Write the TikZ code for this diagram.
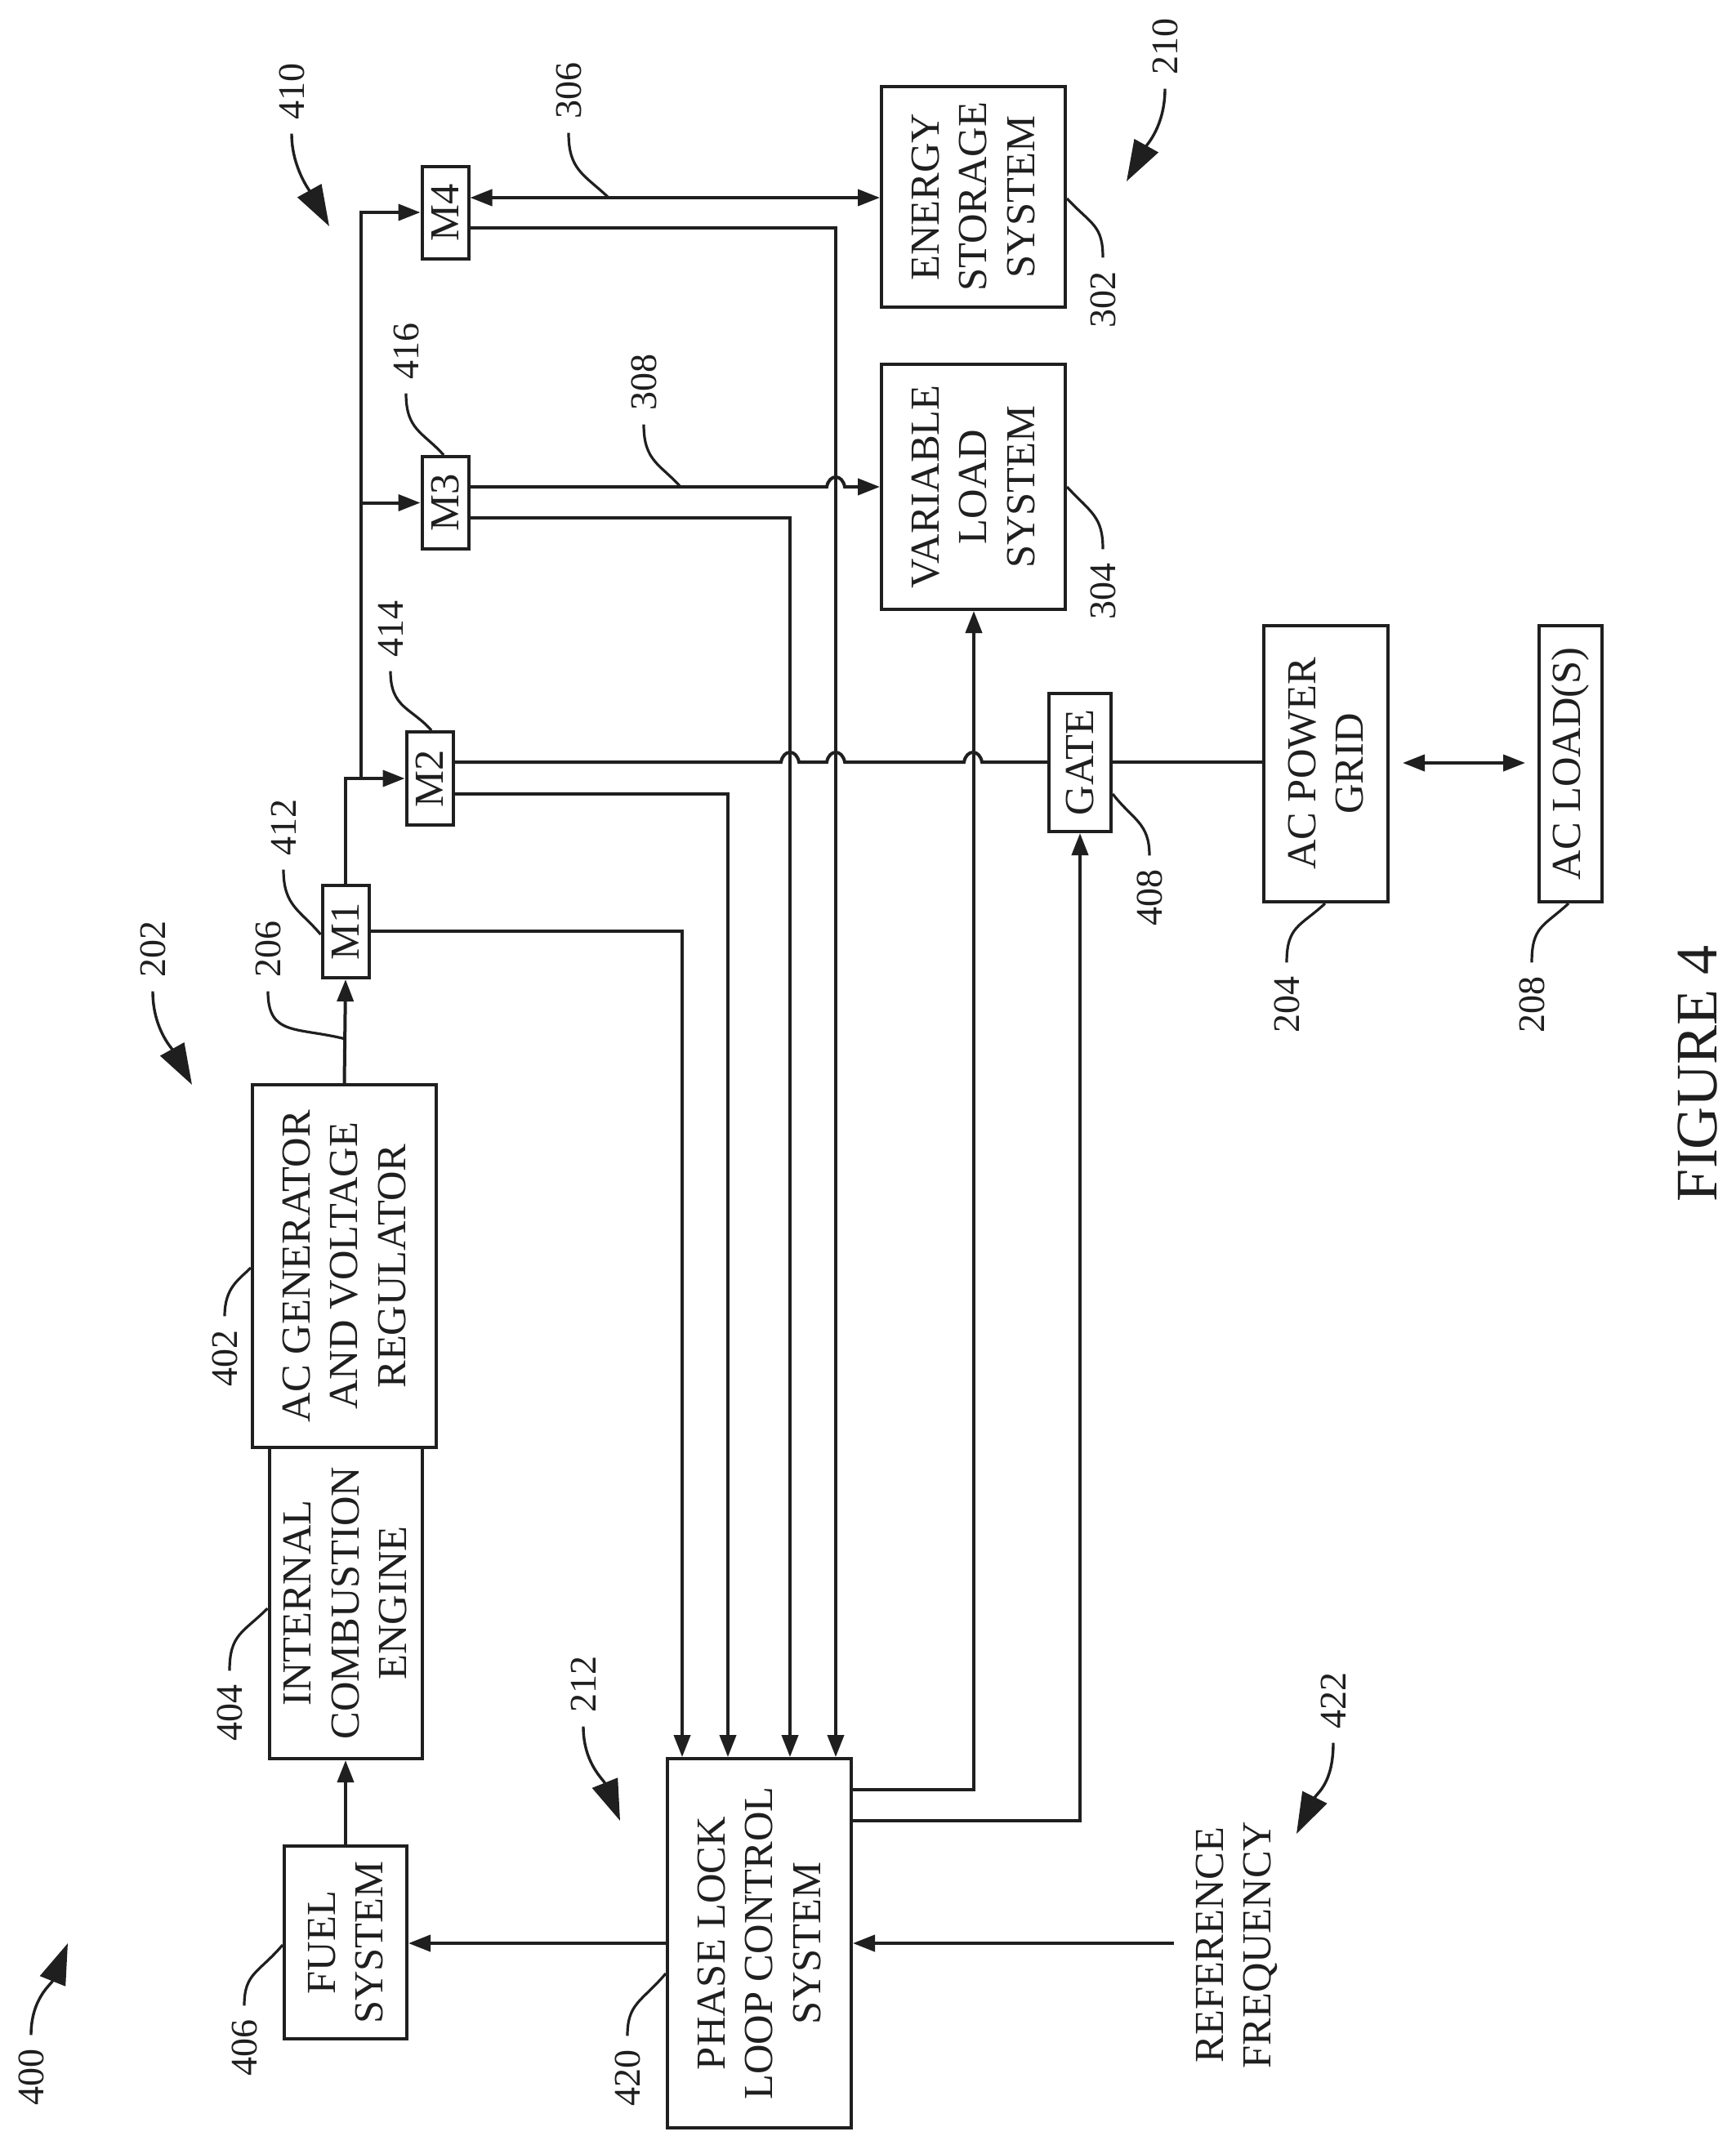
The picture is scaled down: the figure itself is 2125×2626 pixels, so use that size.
\documentclass[tikz,border=0pt]{standalone}
\usepackage{fontspec}
\setmainfont{Liberation Serif}
\usetikzlibrary{arrows.meta}
\definecolor{ink}{gray}{0.12}
\tikzset{
  box/.style={draw=ink,line width=4pt,rotate=90,inner sep=0pt,align=center,text=ink,font=\fontsize{50.5}{58.5}\selectfont},
  txt/.style={rotate=90,inner sep=0pt,align=center,text=ink,font=\fontsize{50.5}{58.5}\selectfont},
  lbl/.style={rotate=90,inner ysep=0pt,inner xsep=17pt,text=ink,font=\fontsize{46}{50}\selectfont},
  wire/.style={draw=ink,line width=4pt},
  arr/.style={wire,-{Triangle[length=27pt,width=20pt]}},
  darr/.style={wire,{Triangle[length=27pt,width=20pt]}-{Triangle[length=27pt,width=20pt]}},
  leader/.style={draw=ink,line width=3.2pt},
  bigarr/.style={draw=ink,line width=3.4pt,-{Triangle[length=50pt,width=33pt]}},
}
\def\J#1#2{-- (#1-11,#2) .. controls (#1-8,#2-16) and (#1+8,#2-16) .. (#1+11,#2)}
\begin{document}
\begin{tikzpicture}[x=1pt,y=-1pt]
\useasboundingbox (0,0) rectangle (2125,2626);
\fill[white] (0,0) rectangle (2125,2626);
% boxes: minimum width = page height, minimum height = page width
\node[box,minimum width=270pt,minimum height=225pt] (ess) at (1191.5,241) {ENERGY\\STORAGE\\SYSTEM};
\node[box,minimum width=300pt,minimum height=225pt] (vls) at (1191.5,596) {VARIABLE\\LOAD\\SYSTEM};
\node[box,minimum width=113pt,minimum height=57pt] (m4) at (545,260) {M4};
\node[box,minimum width=113pt,minimum height=57pt] (m3) at (545,615.5) {M3};
\node[box,minimum width=114pt,minimum height=57pt] (m2) at (526,953) {M2};
\node[box,minimum width=113pt,minimum height=57pt] (m1) at (423,1140.5) {M1};
\node[box,minimum width=169pt,minimum height=76pt] (gate) at (1322,933.5) {GATE};
\node[box,minimum width=338pt,minimum height=152pt] (grid) at (1623,935) {AC POWER\\GRID};
\node[box,minimum width=338pt,minimum height=77pt] (load) at (1922.5,935) {AC LOAD(S)};
\node[box,minimum width=444pt,minimum height=225pt] (gen) at (421.5,1550) {AC GENERATOR\\AND VOLTAGE\\REGULATOR};
\node[box,minimum width=381pt,minimum height=187pt] (ice) at (423,1962.5) {INTERNAL\\COMBUSTION\\ENGINE};
\node[box,minimum width=236pt,minimum height=150pt] (fuel) at (423,2378) {FUEL\\SYSTEM};
\node[box,minimum width=452pt,minimum height=225pt] (pll) at (929.5,2379) {PHASE LOCK\\LOOP CONTROL\\SYSTEM};
\node[txt] (ref) at (1514,2381) {REFERENCE\\FREQUENCY};
\node[rotate=90,inner sep=0pt,text=ink,font=\fontsize{72}{76}\selectfont] (fig) at (2078,1314) {FIGURE 4};
% power path
\draw[arr] (gen.east) -- (m1.west);
\draw[arr] (m1.east) |- (m2.north);
\coordinate (bus) at (442,953);
\draw[arr] (bus) |- (m4.north);
\draw[arr] (bus |- m3.north) -- (m3.north);
\draw[darr] (m4.south |- 0,242) -- (ess.north |- 0,242);
\draw[arr] (m3.south |- 0,596) \J{1023}{596} -- (vls.north |- 0,596);
\draw[wire] (m2.south |- 0,933) \J{967}{933} \J{1023}{933} \J{1191}{933} -- (gate.north |- 0,933);
\draw[wire] (gate.south |- 0,933) -- (grid.north |- 0,933);
\coordinate (dl) at (1717,934);
\coordinate (dr) at (1867,934);
\draw[darr] (dl) -- (dr);
% feedback to PLL
\draw[arr] (m1.south |- 0,1140) -| (835,0 |- pll.east);
\draw[arr] (m2.south |- 0,972) -| (891,0 |- pll.east);
\draw[arr] (m3.south |- 0,634) -| (967,0 |- pll.east);
\draw[arr] (m4.south |- 0,279) -| (1023,0 |- pll.east);
% PLL outputs
\draw[arr] (pll.south |- 0,2191) -| (1192,0 |- vls.west);
\draw[arr] (pll.south |- 0,2229) -| (1322,0 |- gate.west);
\draw[arr] (pll.north |- 0,2379) -- (fuel.south |- 0,2379);
\coordinate (reft) at (1437,2379);
\draw[arr] (reft) -- (pll.south |- 0,2379);
\draw[arr] (fuel.east) -- (ice.west);
% labels
\node[lbl] (l410) at (357,112) {410};
\node[lbl] (l306) at (696,111) {306};
\node[lbl] (l210) at (1426,57) {210};
\node[lbl] (l302) at (1350,367) {302};
\node[lbl] (l416) at (497,430) {416};
\node[lbl] (l308) at (788,468) {308};
\node[lbl] (l304) at (1350,724) {304};
\node[lbl] (l414) at (478,770) {414};
\node[lbl] (l412) at (347,1013) {412};
\node[lbl] (l408) at (1407,1099) {408};
\node[lbl] (l202) at (187,1162) {202};
\node[lbl] (l206) at (328,1162) {206};
\node[lbl] (l204) at (1575,1230) {204};
\node[lbl] (l208) at (1875,1230) {208};
\node[lbl] (l402) at (275,1663) {402};
\node[lbl] (l404) at (281,2097) {404};
\node[lbl] (l406) at (299,2507) {406};
\node[lbl] (l400) at (38,2543) {400};
\node[lbl] (l420) at (768,2544) {420};
\node[lbl] (l212) at (714,2062) {212};
\node[lbl] (l422) at (1632,2082) {422};
% big pointer arrows
\coordinate (t410) at (403,277);
\coordinate (t210) at (1379,222);
\coordinate (t202) at (235,1328);
\coordinate (t400) at (83,2379);
\coordinate (t212) at (759,2229);
\coordinate (t422) at (1587,2245);
\draw[bigarr] (l410.west) .. controls +(0,40) and +(-25,-45) .. (t410);
\draw[bigarr] (l210.west) .. controls +(0,45) and +(25,-45) .. (t210);
\draw[bigarr] (l202.west) .. controls +(0,45) and +(-25,-45) .. (t202);
\draw[bigarr] (l400.east) .. controls +(0,-45) and +(-20,50) .. (t400);
\draw[bigarr] (l212.west) .. controls +(0,45) and +(-20,-50) .. (t212);
\draw[bigarr] (l422.west) .. controls +(0,50) and +(25,-50) .. (t422);
% leaders
\draw[leader] (l306.west) .. controls +(0,45) and +(-30,-28) .. (744,241);
\draw[leader] (l302.east) .. controls +(0,-40) and +(30,32) .. (ess.south |- 0,243);
\draw[leader] (l416.west) .. controls +(0,45) and +(-25,-28) .. (543,0 |- m3.east);
\draw[leader] (l308.west) .. controls +(0,45) and +(-25,-28) .. (833,596);
\draw[leader] (l304.east) .. controls +(0,-40) and +(30,32) .. (vls.south |- 0,596);
\draw[leader] (l414.west) .. controls +(0,45) and +(-25,-28) .. (528,0 |- m2.east);
\draw[leader] (l412.west) .. controls +(0,45) and +(-25,-30) .. (m1.north |- 0,1144);
\draw[leader] (l408.east) .. controls +(0,-40) and +(25,32) .. (gate.south |- 0,972);
\draw[leader] (l206.west) .. controls +(0,55) and +(-60,-15) .. (423,1272);
\draw[leader] (l204.east) .. controls +(0,-45) and +(-30,28) .. (1622,0 |- grid.west);
\draw[leader] (l208.east) .. controls +(0,-45) and +(-30,28) .. (1920,0 |- load.west);
\draw[leader] (l402.east) .. controls +(0,-35) and +(-15,15) .. (gen.north |- 0,1552);
\draw[leader] (l404.east) .. controls +(0,-45) and +(-30,30) .. (ice.north |- 0,1969);
\draw[leader] (l406.east) .. controls +(0,-40) and +(-30,35) .. (fuel.north |- 0,2381);
\draw[leader] (l420.east) .. controls +(0,-40) and +(-30,35) .. (pll.north |- 0,2416);
\end{tikzpicture}
\end{document}
